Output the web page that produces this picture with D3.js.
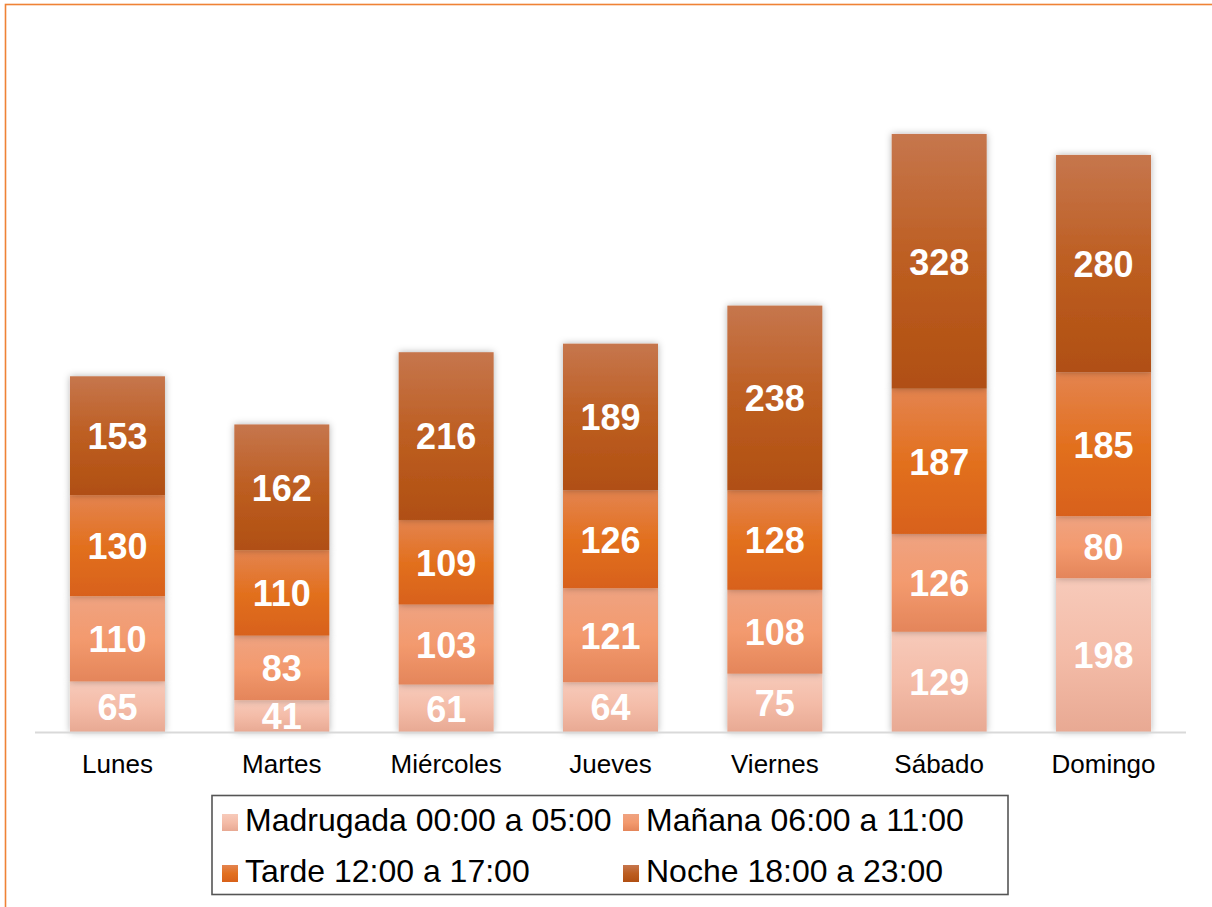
<!DOCTYPE html>
<html>
<head>
<meta charset="utf-8">
<script src="https://cdn.jsdelivr.net/npm/d3@7"></script>
<style>
  body { margin: 0; background: #fff; }
  svg { display: block; font-family: Arial, "Liberation Sans", sans-serif; }
</style>
</head>
<body>
<div id="Chart"></div>
<script>
// datos
var days = ["Lunes", "Martes", "Miércoles", "Jueves", "Viernes", "Sábado", "Domingo"];
var seriesNames = ["Madrugada 00:00 a 05:00", "Mañana 06:00 a 11:00", "Tarde 12:00 a 17:00", "Noche 18:00 a 23:00"];
var madrugada = [65, 41, 61, 64, 75, 129, 198];
var manana = [110, 83, 103, 121, 108, 126, 80];
var tarde = [130, 110, 109, 126, 128, 187, 185];
var noche = [153, 162, 216, 189, 238, 328, 280];

// gradient stops (top, middle, bottom) per series
var gradients = [
	["#F7CABA", "#F4BCA8", "#E8A993"],
	["#EFA381", "#F39A6E", "#E4855A"],
	["#E4844F", "#E2701F", "#D8611A"],
	["#C6764D", "#BD5E21", "#B04F12"]
];

var W = 1212, H = 907;
var svg = d3.select("#Chart").append("svg")
	.attr("width", W).attr("height", H);

var defs = svg.append("defs");
gradients.forEach((g, i) => {
	let lg = defs.append("linearGradient").attr("id", "grad" + i)
		.attr("x1", 0).attr("y1", 0).attr("x2", 0).attr("y2", 1);
	lg.append("stop").attr("offset", "0%").attr("stop-color", g[0]);
	lg.append("stop").attr("offset", "50%").attr("stop-color", g[1]);
	lg.append("stop").attr("offset", "100%").attr("stop-color", g[2]);
});
var shadow = defs.append("filter").attr("id", "shadow")
	.attr("x", "-20%").attr("y", "-20%").attr("width", "140%").attr("height", "140%");
shadow.append("feDropShadow")
	.attr("dx", 0).attr("dy", 0).attr("stdDeviation", 3.5)
	.attr("flood-color", "#000").attr("flood-opacity", 0.3);

// orange frame
svg.append("rect")
	.attr("x", 5.5).attr("y", 4.5).attr("width", W + 20).attr("height", H + 20)
	.attr("fill", "none").attr("stroke", "#EF8236").attr("stroke-width", 1.6);

var x = d3.scaleBand().domain(days).range([35.3, 1185.7])
	.paddingInner(0.422).paddingOuter(0.211);
var y = d3.scaleLinear().domain([0, 900]).range([732, 33]);

var table = days.map((d, i) => ({
	day: d, s0: madrugada[i], s1: manana[i], s2: tarde[i], s3: noche[i]
}));
var stack = d3.stack().keys(["s0", "s1", "s2", "s3"])(table);

var layers = svg.append("g").selectAll("g").data(stack).join("g")
	.attr("fill", (d, i) => "url(#grad" + i + ")");
layers.selectAll("rect").data(d => d).join("rect")
	.attr("x", d => x(d.data.day))
	.attr("y", d => y(d[1]))
	.attr("width", x.bandwidth())
	.attr("height", d => y(d[0]) - y(d[1]))
	.attr("filter", "url(#shadow)");

// axis baseline
svg.append("line")
	.attr("x1", 35).attr("x2", 1186)
	.attr("y1", 732.5).attr("y2", 732.5)
	.attr("stroke", "#D9D9D9").attr("stroke-width", 2);

// data labels
var labels = svg.append("g");
stack.forEach(layer => {
	labels.selectAll(null).data(layer).join("text")
		.attr("x", d => x(d.data.day) + x.bandwidth() / 2)
		.attr("y", d => (y(d[0]) + y(d[1])) / 2)
		.attr("dy", "0.37em")
		.attr("text-anchor", "middle")
		.attr("fill", "#fff")
		.attr("font-weight", "bold")
		.attr("font-size", 36)
		.text(d => d[1] - d[0]);
});

// category labels
svg.append("g").selectAll("text").data(days).join("text")
	.attr("x", d => x(d) + x.bandwidth() / 2)
	.attr("y", 773)
	.attr("text-anchor", "middle")
	.attr("font-size", 26)
	.attr("fill", "#000")
	.text(d => d);

// legend
var legend = svg.append("g");
legend.append("rect")
	.attr("x", 212).attr("y", 795.5).attr("width", 796).attr("height", 99)
	.attr("fill", "#fff").attr("stroke", "#555").attr("stroke-width", 1.6);
var legendPos = [[222, 831], [623, 831], [222, 882], [623, 882]];
var items = legend.selectAll("g").data(seriesNames).join("g")
	.attr("transform", (d, i) => `translate(${legendPos[i][0]},${legendPos[i][1]})`);
items.append("rect")
	.attr("x", 0).attr("y", -17).attr("width", 16).attr("height", 17)
	.attr("fill", (d, i) => "url(#grad" + i + ")");
items.append("text")
	.attr("x", 23).attr("y", 0)
	.attr("font-size", 32)
	.attr("fill", "#000")
	.text(d => d);
</script>
</body>
</html>
